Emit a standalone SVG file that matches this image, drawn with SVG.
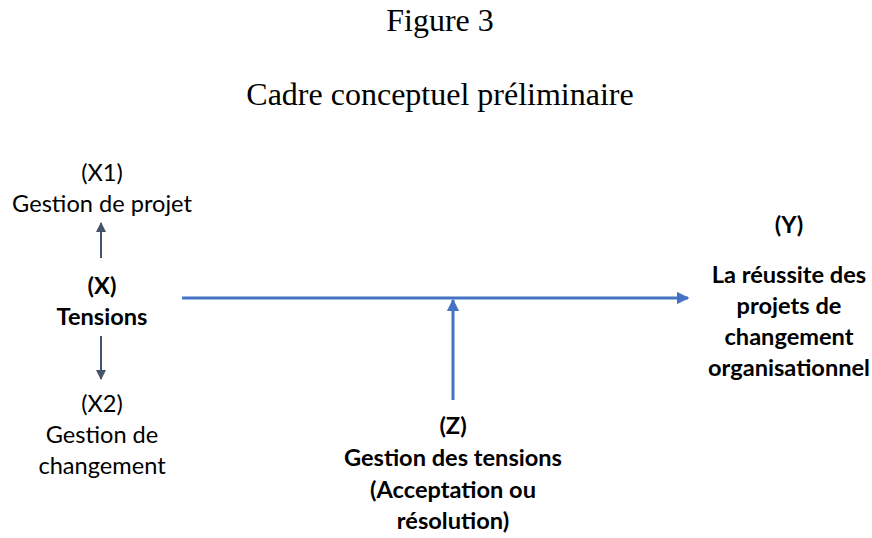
<svg xmlns="http://www.w3.org/2000/svg" width="872" height="538" viewBox="0 0 872 538">
  <style>
    .title { font-family: "Liberation Serif", "Times New Roman", serif; font-size: 32px; fill: #000; text-anchor: middle; }
    .lbl { font-family: Lato, "Noto Sans", sans-serif; font-size: 23.6px; fill: #000; text-anchor: middle; }
    .b { font-weight: bold; }
    .blue { stroke: #4472C4; stroke-width: 3; fill: none; }
    .dark { stroke: #44546A; stroke-width: 2; fill: none; }
  </style>
  <defs>
    <marker id="headBlue" viewBox="0 0 10 10" refX="9" refY="5" markerWidth="4.2" markerHeight="4.2" orient="auto" markerUnits="strokeWidth">
      <path d="M0,0 L10,5 L0,10 z" fill="#4472C4"/>
    </marker>
    <marker id="headDark" viewBox="0 0 10 10" refX="9" refY="5" markerWidth="5" markerHeight="5" orient="auto" markerUnits="strokeWidth">
      <path d="M0,0 L10,5 L0,10 z" fill="#44546A"/>
    </marker>
  </defs>

  <rect width="872" height="538" fill="#fff"/>

  <text class="title" x="440" y="31">Figure 3</text>
  <text class="title" x="440" y="105">Cadre conceptuel préliminaire</text>

  <g id="connectors">
    <line class="dark" x1="101" y1="258" x2="101" y2="223" marker-end="url(#headDark)"/>
    <line class="dark" x1="101" y1="336" x2="101" y2="379" marker-end="url(#headDark)"/>
    <line class="blue" x1="182" y1="298" x2="688" y2="298" marker-end="url(#headBlue)"/>
    <line class="blue" x1="453" y1="400" x2="453" y2="300" marker-end="url(#headBlue)"/>
  </g>

  <g id="x1">
    <text class="lbl" x="102" y="181">(X1)</text>
    <text class="lbl" x="102" y="212">Gestion de projet</text>
  </g>
  <g id="x">
    <text class="lbl b" x="102" y="294">(X)</text>
    <text class="lbl b" x="102" y="325">Tensions</text>
  </g>
  <g id="x2">
    <text class="lbl" x="102" y="412">(X2)</text>
    <text class="lbl" x="102" y="443">Gestion de</text>
    <text class="lbl" x="102" y="474">changement</text>
  </g>
  <g id="z">
    <text class="lbl b" x="453" y="434">(Z)</text>
    <text class="lbl b" x="453" y="466">Gestion des tensions</text>
    <text class="lbl b" x="453" y="498">(Acceptation ou</text>
    <text class="lbl b" x="453" y="529">résolution)</text>
  </g>
  <g id="y">
    <text class="lbl b" x="789" y="233">(Y)</text>
    <text class="lbl b" x="789" y="283">La réussite des</text>
    <text class="lbl b" x="789" y="314">projets de</text>
    <text class="lbl b" x="789" y="345">changement</text>
    <text class="lbl b" x="789" y="376">organisationnel</text>
  </g>
</svg>
